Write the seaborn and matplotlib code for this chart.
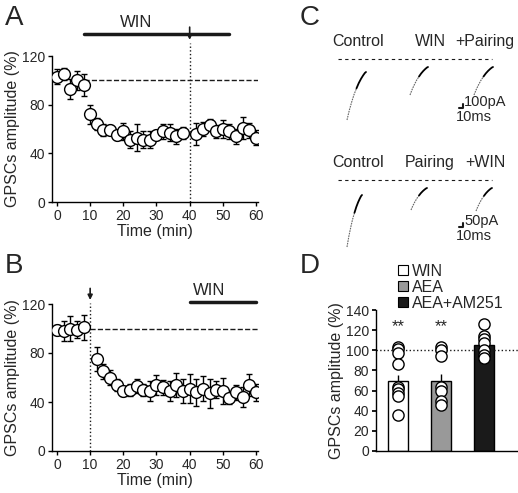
import matplotlib
matplotlib.use("Agg")
import matplotlib.pyplot as plt
import seaborn as sns
import numpy as np
import pandas as pd
from matplotlib.patches import Patch

sns.set_theme(style="ticks")
plt.rcParams['font.family'] = ['Liberation Sans', 'DejaVu Sans']

# ---- data ----
timeA = [0,2,4,6,8,10,12,14,16,18,20,22,24,26,28,30,32,34,36,38,42,44,46,48,50,52,54,56,58,60]
ampA = [103,105,93,100,96,72,64,59,59,55,58,51,53,51,51,55,58,57,54,57,56,60,63,58,60,58,54,61,59,53]
errA = [6,5,8,8,9,8,5,5,4,4,7,7,11,7,7,4,6,7,6,5,9,6,5,5,7,6,6,9,6,6]
timeB = [0,2,4,6,8,12,14,16,18,20,22,24,26,28,30,32,34,36,38,40,42,44,46,48,50,52,54,56,58,60]
ampB = [99,98,100,99,101,75,65,60,54,49,50,53,50,49,54,52,49,54,49,51,48,51,47,50,49,43,48,44,54,48]
errB = [4,8,10,7,10,10,6,6,5,4,5,6,5,8,8,6,8,10,10,12,11,10,12,7,11,5,6,8,9,7]
groupsD = ["WIN", "AEA", "AEA+AM251"]
meanD = [70, 70, 105]
semD = [5, 6, 3]
cellsD = {"WIN": [103,101,97,86,64,62,58,55,36],
          "AEA": [103,100,94,64,60,50,46],
          "AEA+AM251": [126,114,111,107,100,95,92]}
colorsD = ["white", "#999999", "#1a1a1a"]
traceLabelsTop = ["Control", "WIN", "+Pairing"]
traceLabelsBot = ["Control", "Pairing", "+WIN"]
traceProfile = [1.0, 0.8, 0.62, 0.47, 0.34, 0.23, 0.14, 0.07, 0.02, 0.0]
traceXfrac = [0.0, 0.12, 0.25, 0.37, 0.5, 0.62, 0.74, 0.85, 0.94, 1.0]

W, H = 518, 493
fig = plt.figure(figsize=(W/100, H/100), dpi=100)
def ax_px(l, t, r, b):
    return fig.add_axes([l/W, 1-b/H, (r-l)/W, (b-t)/H])

def timecourse(ax, t, a, e):
    ax.errorbar(t, a, yerr=e, fmt='o', mfc='white', mec='black', color='black',
                ms=8.5, mew=1, elinewidth=1, capsize=2, zorder=3)
    ax.set_xlim(-1.5, 60.6)
    ax.set_ylim(0, 120)
    ax.set_xticks([0,10,20,30,40,50,60])
    ax.set_yticks([0,40,80,120])
    sns.despine(ax=ax)
    ax.tick_params(labelsize=10, length=3, width=1, color='black', pad=2)
    for s in ax.spines.values():
        s.set_color('black'); s.set_linewidth(1)
    ax.set_xlabel("Time (min)", fontsize=11.5, labelpad=1)
    ax.set_ylabel("GPSCs amplitude (%)", fontsize=11.5, labelpad=1)

axA = ax_px(52, 56, 258, 202)
timecourse(axA, timeA, ampA, errA)
axA.plot([8, 60.6], [100, 100], 'k--', lw=1, zorder=1)
axA.plot([40, 40], [0, 131], 'k:', lw=1, clip_on=False)
axA.plot([8, 52], [138, 138], 'k-', lw=2.5, clip_on=False)
axA.text(24, 141, "WIN", ha='center', va='bottom', fontsize=12)
axA.annotate("", xy=(40, 131), xytext=(40, 146), arrowprops=dict(arrowstyle='-|>', color='k', lw=1.2, mutation_scale=7), annotation_clip=False)
fig.text(5/W, 1-5/H, "A", fontsize=20, va='top')

axB = ax_px(52, 304, 258, 451)
timecourse(axB, timeB, ampB, errB)
axB.plot([10, 60.6], [100, 100], 'k--', lw=1, zorder=1)
axB.plot([10, 10], [0, 121], 'k:', lw=1, clip_on=False)
axB.plot([40, 60], [122, 122], 'k-', lw=2.5, clip_on=False)
axB.text(41, 125, "WIN", ha='left', va='bottom', fontsize=12)
axB.annotate("", xy=(10, 121), xytext=(10, 135), arrowprops=dict(arrowstyle='-|>', color='k', lw=1.2, mutation_scale=7), annotation_clip=False)
fig.text(5/W, 1-253/H, "B", fontsize=20, va='top')

# ---- C traces ----
axC = ax_px(300, 0, 518, 250)
axC.set_xlim(300, 518); axC.set_ylim(250, 0); axC.axis('off')
fig.text(300/W, 1-5/H, "C", fontsize=20, va='top')
def trace(x0, w, ybot, ytop):
    xs = [x0 + w*f for f in traceXfrac]
    ys = [ytop + (ybot-ytop)*p for p in traceProfile]
    axC.plot(xs[:5], ys[:5], color='#666666', lw=0.8, ls=(0, (1.5, 0.8)))
    axC.plot(xs[4:], ys[4:], color='black', lw=1.3)
for row, (labels, base, specs, sb) in enumerate([
        (traceLabelsTop, 59, [(347, 19, 120, 72), (410, 18, 95, 67), (474, 19, 95, 67)], "100pA"),
        (traceLabelsBot, 180, [(347, 15, 247, 195), (411, 16, 210, 188), (476, 16, 211, 188)], "50pA")]):
    ly = base - 10
    for lab, xc in zip(labels, [358, 430, 485]):
        axC.text(xc, ly, lab, ha='center', va='bottom', fontsize=11.5)
    axC.plot([338, 492], [base, base], color='k', lw=0.8, ls=(0, (3, 3)))
    for s in specs:
        trace(*s)
    sy = 108 if row == 0 else 227
    axC.plot([459, 463, 463], [sy, sy, sy-4], 'k-', lw=1.5)
    axC.text(464, sy+1, sb, fontsize=10.5, va='bottom')
    axC.text(456, sy+2, "10ms", fontsize=10.5, va='top')

# ---- D bars ----
axD = ax_px(376, 310, 517, 451)
dfD = pd.DataFrame({"group": groupsD, "mean": meanD})
sns.barplot(data=dfD, x="group", y="mean", hue="group", palette=colorsD,
            width=0.46, edgecolor='black', linewidth=1, ax=axD, legend=False)
axD.errorbar(range(3), meanD, yerr=[[0]*3, semD], fmt='none', ecolor='black', elinewidth=1, capsize=0)
for i, g in enumerate(groupsD):
    vals = cellsD[g]
    axD.scatter([i]*len(vals), vals, s=65, facecolor='white', edgecolor='black', lw=1, zorder=4)
for i in [0, 1]:
    axD.text(i, 116, "**", ha='center', va='bottom', fontsize=12)
axD.plot([-0.51, 3.0], [100, 100], 'k:', lw=1, clip_on=False)
axD.set_xlim(-0.51, 2.77); axD.set_ylim(0, 140)
axD.set_yticks(range(0, 141, 20)); axD.set_xticks([])
axD.set_xlabel(""); axD.set_ylabel("GPSCs amplitude (%)", fontsize=11.5, labelpad=1)
sns.despine(ax=axD)
for s in axD.spines.values():
    s.set_color('black'); s.set_linewidth(1)
axD.tick_params(labelsize=10, length=3, color='black', pad=2)
fig.text(300/W, 1-253/H, "D", fontsize=20, va='top')
handles = [Patch(facecolor=c, edgecolor='black', lw=0.8) for c in colorsD]
fig.legend(handles, groupsD, loc='upper left', bbox_to_anchor=(390/W, 1-256/H), frameon=False,
           fontsize=11.5, handlelength=0.6, handleheight=0.6, handletextpad=0.3, labelspacing=0.05, borderpad=0)

fig.savefig("out.png", dpi=100)
